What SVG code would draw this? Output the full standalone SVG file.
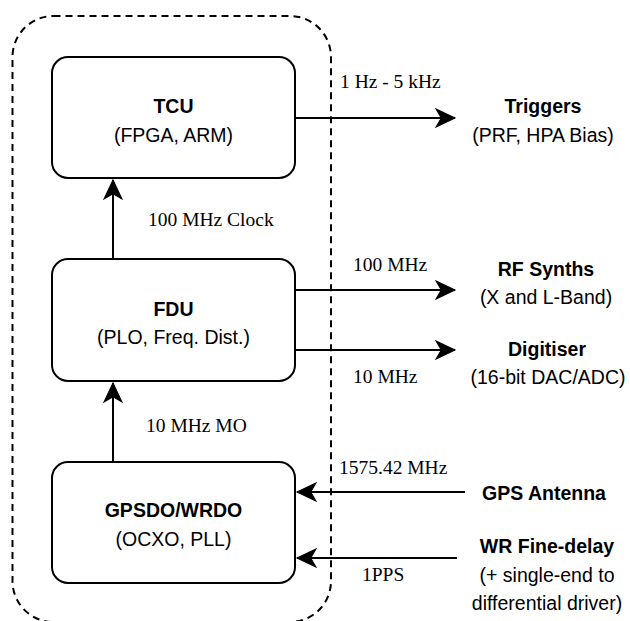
<svg xmlns="http://www.w3.org/2000/svg" width="630" height="621" viewBox="0 0 630 621">
<style>
.box{fill:#fff;stroke:#000;stroke-width:2}
.cont{fill:none;stroke:#000;stroke-width:2;stroke-dasharray:7 5}
.edge{fill:none;stroke:#000;stroke-width:2}
.t{font-family:"Liberation Sans",Arial,sans-serif;font-size:19.5px;fill:#000;text-anchor:middle}
.b{font-weight:bold}
.s{font-family:"Liberation Serif","Times New Roman",serif;font-size:19.5px;fill:#000}
</style>
<defs>
<marker id="arr" markerUnits="userSpaceOnUse" markerWidth="20" markerHeight="20" viewBox="-18 -9 19 18" refX="0" refY="0" orient="auto" overflow="visible">
<path d="M0,0 L-18,-8.5 L-13,0 L-18,8.5 Z" fill="#000" stroke="#000" stroke-width="1"/>
</marker>
</defs>
<rect id="container" class="cont" x="12.5" y="16" width="318.5" height="606" rx="41" ry="41"/>
<g id="connectors">
<path class="edge" d="M113,259 L113,180" marker-end="url(#arr)"/>
<path class="edge" d="M113,462 L113,383" marker-end="url(#arr)"/>
<path class="edge" d="M295,118 L455,118" marker-end="url(#arr)"/>
<path class="edge" d="M295,290 L455,290" marker-end="url(#arr)"/>
<path class="edge" d="M295,350 L455,350" marker-end="url(#arr)"/>
<path class="edge" d="M465,492 L297,492" marker-end="url(#arr)"/>
<path class="edge" d="M457,558 L297,558" marker-end="url(#arr)"/>
<text class="s" x="148" y="226">100 MHz Clock</text>
<text class="s" x="146" y="432">10 MHz MO</text>
<text class="s" x="340" y="88">1 Hz - 5 kHz</text>
<text class="s" x="353" y="271">100 MHz</text>
<text class="s" x="353" y="383">10 MHz</text>
<text class="s" x="339" y="474">1575.42 MHz</text>
<text class="s" x="362" y="581">1PPS</text>
</g>
<g id="tcu">
<rect class="box" x="52" y="57" width="243" height="121" rx="16"/>
<text class="t b" x="173.5" y="113">TCU</text>
<text class="t" x="173.5" y="142">(FPGA, ARM)</text>
</g>
<g id="fdu">
<rect class="box" x="52" y="259" width="243" height="122" rx="16"/>
<text class="t b" x="173.5" y="316">FDU</text>
<text class="t" x="173.5" y="344">(PLO, Freq. Dist.)</text>
</g>
<g id="gpsdo">
<rect class="box" x="52" y="462" width="243" height="121" rx="16"/>
<text class="t b" x="173.5" y="517">GPSDO/WRDO</text>
<text class="t" x="173.5" y="546">(OCXO, PLL)</text>
</g>
<g id="triggers">
<text class="t b" x="543" y="113">Triggers</text>
<text class="t" x="543" y="142">(PRF, HPA Bias)</text>
</g>
<g id="rfsynths">
<text class="t b" x="546" y="276">RF Synths</text>
<text class="t" x="546" y="304">(X and L-Band)</text>
</g>
<g id="digitiser">
<text class="t b" x="547" y="356">Digitiser</text>
<text class="t" x="548" y="384">(16-bit DAC/ADC)</text>
</g>
<g id="gps">
<text class="t b" x="544" y="500">GPS Antenna</text>
</g>
<g id="wr">
<text class="t b" x="547" y="553">WR Fine-delay</text>
<text class="t" x="547" y="582">(+ single-end to</text>
<text class="t" x="547" y="610">differential driver)</text>
</g>
</svg>
